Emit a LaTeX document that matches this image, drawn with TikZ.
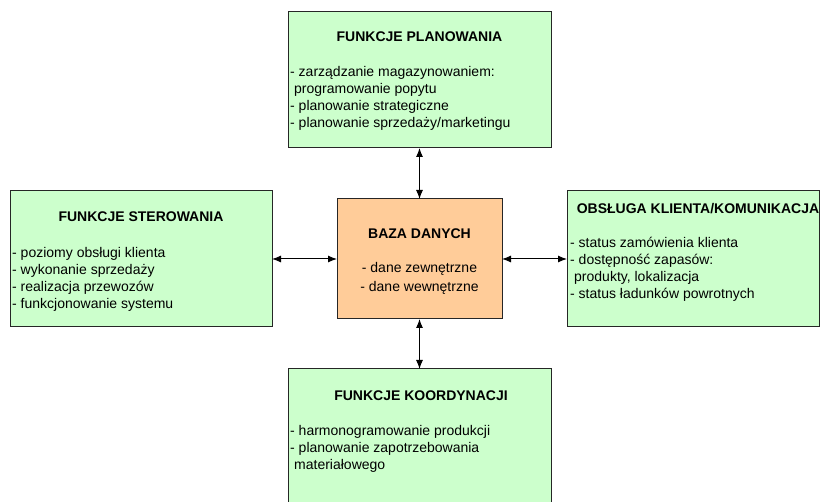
\documentclass[tikz,border=0pt]{standalone}
\usepackage{fontspec}
\setmainfont{Liberation Sans}
\usetikzlibrary{arrows.meta}
\definecolor{boxgreen}{HTML}{CCFFCC}
\definecolor{boxorange}{HTML}{FFCC99}
\definecolor{edge}{HTML}{262626}
\begin{document}
\begin{tikzpicture}[x=1pt,y=-1pt,
  panel/.style={draw=edge,line width=1pt,fill=boxgreen,inner sep=0pt,outer sep=0pt},
  core/.style={panel,fill=boxorange},
  heading/.style={font=\fontsize{14}{16.7}\selectfont\bfseries,inner sep=0pt,anchor=base},
  items/.style={font=\fontsize{14}{16.9}\selectfont,inner sep=0pt,anchor=base west},
  link/.style={line width=1pt,{Latex[length=9pt,width=7pt]}-{Latex[length=9pt,width=7pt]}}
]
\clip (0,0) rectangle (820,502);
\fill[white] (0,0) rectangle (820,502);

% boxes
\node[panel,minimum width=263pt,minimum height=136pt] (plan) at (419.5,80) {};
\node[panel,minimum width=262pt,minimum height=136pt] (ster) at (141,259) {};
\node[panel,minimum width=252pt,minimum height=136pt] (obsl) at (693,259) {};
\node[panel,minimum width=263pt,minimum height=146pt] (koord) at (419.5,442) {};
\node[core,minimum width=165pt,minimum height=120pt] (baza) at (419.5,259) {};

% planning functions
\node[heading] (planT) at (419.5,42) {FUNKCJE PLANOWANIA};
\node[items] (planL) at (290,77) {\begin{tabular}[t]{@{}l@{}}
- zarządzanie magazynowaniem:\\
\hspace*{4pt}programowanie popytu\\
- planowanie strategiczne\\
- planowanie sprzedaży/marketingu
\end{tabular}};

% control functions
\node[heading] (sterT) at (141,222) {FUNKCJE STEROWANIA};
\node[items] (sterL) at (12,258) {\begin{tabular}[t]{@{}l@{}}
- poziomy obsługi klienta\\
- wykonanie sprzedaży\\
- realizacja przewozów\\
- funkcjonowanie systemu
\end{tabular}};

% customer service
\node[heading] (obslT) at (698,214) {OBSŁUGA KLIENTA/KOMUNIKACJA};
\node[items] (obslL) at (570,248) {\begin{tabular}[t]{@{}l@{}}
- status zamówienia klienta\\
- dostępność zapasów:\\
\hspace*{4pt}produkty, lokalizacja\\
- status ładunków powrotnych
\end{tabular}};

% coordination functions
\node[heading] (koordT) at (421,401) {FUNKCJE KOORDYNACJI};
\node[items] (koordL) at (290,436) {\begin{tabular}[t]{@{}l@{}}
- harmonogramowanie produkcji\\
- planowanie zapotrzebowania\\
\hspace*{4pt}materiałowego
\end{tabular}};

% database
\node[heading] (bazaT) at (419.5,239) {BAZA DANYCH};
\node[items,anchor=base] (bazaL) at (419.5,273) {\renewcommand\arraystretch{1.1}\begin{tabular}[t]{@{}c@{}}
- dane zewnętrzne\\
- dane wewnętrzne
\end{tabular}};

% connections
\draw[link] (plan.south) -- (baza.north);
\draw[link] (baza.south) -- (koord.north);
\draw[link] (ster.east) -- (baza.west);
\draw[link] (baza.east) -- (obsl.west);
\end{tikzpicture}
\end{document}
